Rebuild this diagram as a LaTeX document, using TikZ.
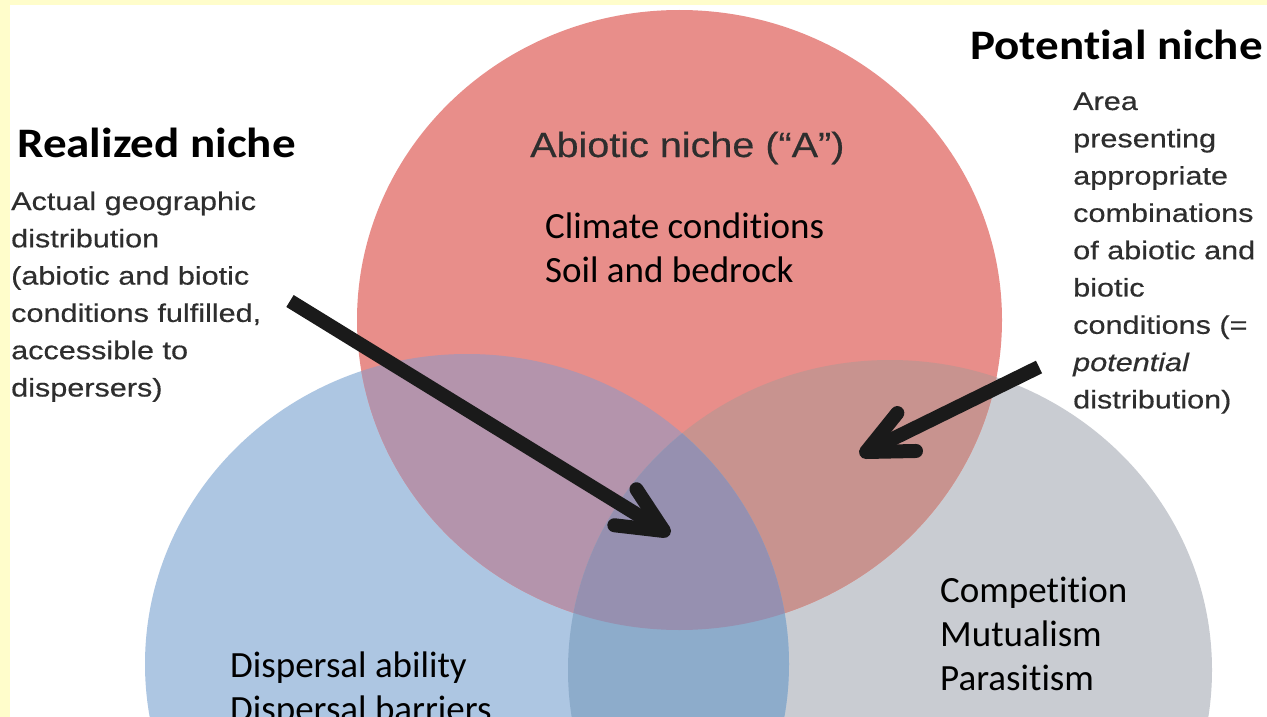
\documentclass[tikz,border=0pt]{standalone}
\usepackage{fontspec}
\usetikzlibrary{calc}
\setmainfont{Carlito}[Ligatures=NoCommon]
\newfontfamily\titlefont[FakeStretch=1.12,Ligatures=NoCommon]{Carlito}
\newfontfamily\grayfont[FakeStretch=1.2,FakeBold=0.4]{Liberation Sans}
\newfontfamily\abfont[FakeStretch=1.13,FakeBold=0.4]{Liberation Sans}
\definecolor{bgyellow}{HTML}{FFFDCB}
\definecolor{cred}{HTML}{E88E8A}
\definecolor{cblue}{HTML}{ADC6E2}
\definecolor{cgray}{HTML}{C9CCD2}
\definecolor{crb}{HTML}{B494AC}
\definecolor{crg}{HTML}{C8938F}
\definecolor{cbg}{HTML}{8DACCB}
\definecolor{crbg}{HTML}{9690B0}
\definecolor{txtgray}{HTML}{2E2E2E}
\definecolor{arrowblack}{HTML}{1A1A1A}
\tikzset{
  title/.style={anchor=base west, inner sep=0pt, text=black, font=\titlefont\bfseries\fontsize{42}{50}\selectfont},
  graytext/.style={anchor=base west, inner sep=0pt, text=txtgray, font=\grayfont\fontsize{25.5}{37.3}\selectfont},
  abtext/.style={anchor=base west, inner sep=0pt, text=txtgray, font=\abfont\fontsize{35}{42}\selectfont},
  bodytext/.style={anchor=base west, inner sep=0pt, text=black, font=\fontsize{37}{44}\selectfont},
  arrowline/.style={draw=arrowblack, line width=14pt},
  arrowhead/.style={draw=arrowblack, line width=14pt, line join=round, line cap=round}
}
\begin{document}
\begin{tikzpicture}[x=1pt,y=-1pt]
\useasboundingbox (0,0) rectangle (1267,717);
\begin{scope}
\clip (0,0) rectangle (1267,717);
\fill[white] (0,0) rectangle (1267,717);
\fill[bgyellow] (0,0) rectangle (1267,5);
\fill[bgyellow] (0,0) rectangle (10,717);
% circles
\fill[cgray] (890,670) ellipse [x radius=322, y radius=310];
\fill[cblue] (467,664) ellipse [x radius=322, y radius=310];
\fill[cred] (679.5,320) ellipse [x radius=322.5, y radius=310];
\begin{scope}
  \clip (679.5,320) ellipse [x radius=322.5, y radius=310];
  \fill[crb] (467,664) ellipse [x radius=322, y radius=310];
  \fill[crg] (890,670) ellipse [x radius=322, y radius=310];
\end{scope}
\begin{scope}
  \clip (467,664) ellipse [x radius=322, y radius=310];
  \fill[cbg] (890,670) ellipse [x radius=322, y radius=310];
\end{scope}
\begin{scope}
  \clip (679.5,320) ellipse [x radius=322.5, y radius=310];
  \clip (467,664) ellipse [x radius=322, y radius=310];
  \fill[crbg] (890,670) ellipse [x radius=322, y radius=310];
\end{scope}
% titles
\node[title] (realized) at (17,157) {Realized niche};
\node[title] (potential) at (970,60) {Potential niche};
% descriptions
\node[graytext] (realdesc) at (11,210) {\vtop{\hbox{Actual geographic}\hbox{distribution}\hbox{(abiotic and biotic}\hbox{conditions fulfilled,}\hbox{accessible to}\hbox{dispersers)}}};
\node[graytext] (potdesc) at (1073,110) {\vtop{\hbox{Area}\hbox{presenting}\hbox{appropriate}\hbox{combinations}\hbox{of abiotic and}\hbox{biotic}\hbox{conditions (=}\hbox{\itshape potential}\hbox{distribution)}}};
\node[abtext] (abiotic) at (530,157) {Abiotic niche (“A”)};
\node[bodytext] (climate) at (545,238) {\vtop{\hbox{Climate conditions}\hbox{Soil and bedrock}}};
\node[bodytext] (dispersal) at (230,677) {\vtop{\hbox{Dispersal ability}\hbox{Dispersal barriers}}};
\node[bodytext] (biotic) at (940,602) {\vtop{\hbox{Competition}\hbox{Mutualism}\hbox{Parasitism}}};
% arrows
\coordinate (ls) at (290,301);
\coordinate (lt) at (664,531);
\coordinate (rs) at (1039,367);
\coordinate (rt) at (866,452);
\draw[arrowline] (ls) -- ($(lt)!6pt!(ls)$);
\draw[arrowhead] ($(lt)!50pt!25:(ls)$) -- (lt) -- ($(lt)!50pt!-25:(ls)$);
\draw[arrowline] (rs) -- ($(rt)!6pt!(rs)$);
\draw[arrowhead] ($(rt)!50pt!25:(rs)$) -- (rt) -- ($(rt)!50pt!-25:(rs)$);
\end{scope}
\end{tikzpicture}
\end{document}
